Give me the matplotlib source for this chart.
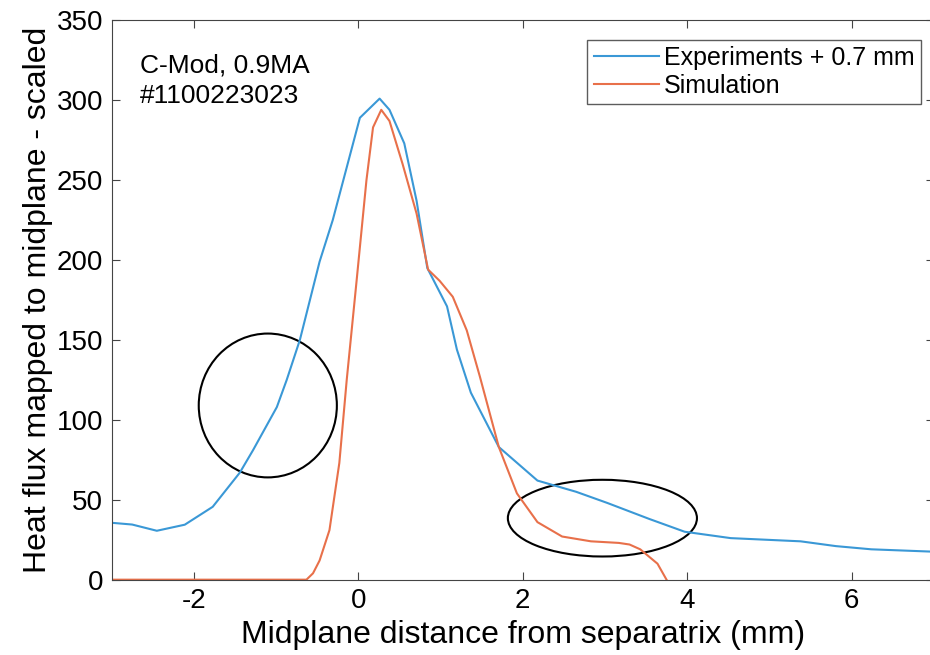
import numpy as np
import matplotlib.pyplot as plt
from matplotlib.patches import Ellipse

plt.rcParams["font.family"] = ["Liberation Sans", "DejaVu Sans"]
plt.rcParams["axes.unicode_minus"] = False

# Experiments (shifted + 0.7 mm)
exp_x = [-3.0, -2.75, -2.45, -2.11, -1.77, -1.44, -1.28, -0.99, -0.87, -0.71,
         -0.47, -0.31, 0.02, 0.26, 0.38, 0.56, 0.71, 0.84, 1.08, 1.20, 1.37,
         1.71, 2.18, 2.65, 3.03, 3.54, 3.97, 4.53, 5.38, 5.81, 6.24, 7.0]
exp_y = [35.6, 34.5, 30.6, 34.4, 45.6, 67, 81, 108, 125, 150,
         199, 225, 289, 301, 294, 273, 237, 195, 171, 144, 117,
         83, 62, 55, 48, 38, 30, 26, 24, 21, 19, 17.5]

# Simulation
sim_x = [-3.0, -0.63, -0.55, -0.47, -0.35, -0.23, -0.14, -0.02, 0.10, 0.18,
         0.28, 0.38, 0.54, 0.71, 0.85, 0.99, 1.15, 1.32, 1.48, 1.71, 1.93,
         2.18, 2.48, 2.83, 3.17, 3.30, 3.43, 3.64, 3.75]
sim_y = [0, 0, 4, 12, 31, 73, 125, 187, 250, 283,
         294, 287, 260, 229, 194, 187, 177, 156, 127, 83, 54,
         36, 27, 24, 23, 22, 19, 10, 0]

fig = plt.figure(figsize=(9.3, 6.55), dpi=100)
ax = fig.add_axes([0.12, 0.115, 0.884, 0.854])

ax.plot(exp_x, exp_y, color="#3a98d6", lw=1.5, label="Experiments + 0.7 mm")
ax.plot(sim_x, sim_y, color="#e8704a", lw=1.5, label="Simulation")

# highlighted regions
ax.add_patch(Ellipse((-1.10, 109), 1.68, 90, fill=False, ec="black", lw=1.5))
ax.add_patch(Ellipse((2.97, 38.5), 2.30, 48, fill=False, ec="black", lw=1.5))

ax.set_xlim(-3, 7)
ax.set_ylim(0, 350)
ax.set_xticks([-2, 0, 2, 4, 6])
ax.set_yticks(range(0, 351, 50))
ax.tick_params(direction="in", labelsize=20, length=6, top=True, right=True,
               color="#444444", pad=6)
for s in ax.spines.values():
    s.set_color("#444444")

ax.set_xlabel("Midplane distance from separatrix (mm)", fontsize=23, labelpad=4)
ax.set_ylabel("Heat flux mapped to midplane - scaled", fontsize=23, labelpad=3)

ax.text(0.034, 0.94, "C-Mod, 0.9MA\n#1100223023", transform=ax.transAxes,
        fontsize=19, va="top", ha="left", linespacing=1.3)

leg = ax.legend(loc="upper right", bbox_to_anchor=(0.984, 0.965),
                borderaxespad=0, fontsize=18, frameon=True, fancybox=False,
                edgecolor="#333333", handlelength=2.6, handletextpad=0.2,
                borderpad=0.25, labelspacing=0.15)
leg.get_frame().set_linewidth(1.0)

fig.savefig("out.png", dpi=100)
